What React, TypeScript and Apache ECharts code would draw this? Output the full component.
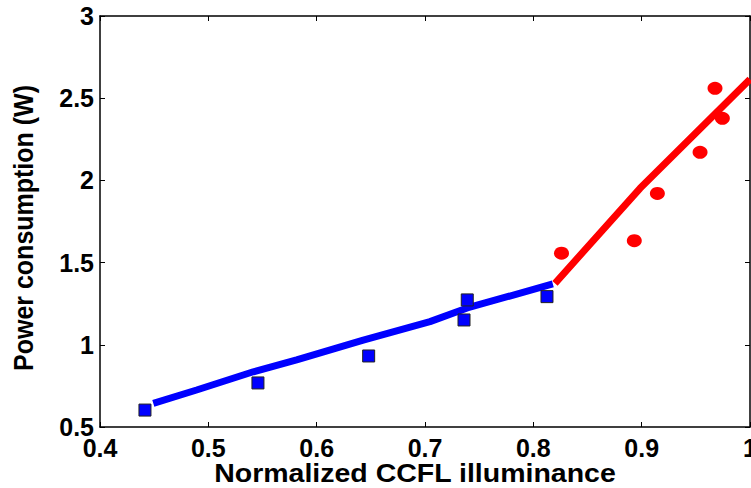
import React, { useEffect, useRef } from "react";
import * as echarts from "echarts";

const blueSquares: [number, number][] = [
  [0.4415, 0.603],
  [0.5458, 0.768],
  [0.648, 0.932],
  [0.739, 1.273],
  [0.736, 1.151],
  [0.8126, 1.293],
];
const redCircles: [number, number][] = [
  [0.826, 1.557],
  [0.8932, 1.633],
  [0.9145, 1.921],
  [0.9539, 2.171],
  [0.9677, 2.56],
  [0.9745, 2.378],
];
const blueFit: [number, number][] = [
  [0.4492, 0.644],
  [0.4892, 0.725],
  [0.5415, 0.836],
  [0.5815, 0.908],
  [0.643, 1.029],
  [0.7046, 1.141],
  [0.739, 1.224],
  [0.818, 1.37],
];
const redFit: [number, number][] = [
  [0.82, 1.374],
  [0.8985, 1.952],
  [1.0, 2.615],
];
const xTitle = "Normalized CCFL illuminance";
const yTitle = "Power consumption (W)";

const FONT = "'Liberation Sans', Arial, sans-serif";

export default function App() {
  const ref = useRef<HTMLDivElement>(null);
  useEffect(() => {
    if (!ref.current) return;
    const chart = echarts.init(ref.current, null, { renderer: "svg" });
    const axisLine = { show: true, lineStyle: { color: "#000", width: 1.5 } };
    const axisTick = { show: true, inside: true, length: 5, lineStyle: { color: "#000", width: 1 } };
    const labelStyle = { color: "#000", fontFamily: FONT, fontWeight: "bold" as const, fontSize: 25 };
    chart.setOption({
      animation: false,
      backgroundColor: "#fff",
      grid: { left: 100, right: 1, top: 16, bottom: 61, containLabel: false, outerBoundsMode: "none" },
      xAxis: [
        {
          type: "value", min: 0.4, max: 1, interval: 0.1,
          axisLine, axisTick, splitLine: { show: false },
          axisLabel: { ...labelStyle, margin: 8, hideOverlap: false, formatter: (v: number) => String(Number(v.toFixed(1))) },
        },
        {
          type: "value", position: "top", min: 0.4, max: 1, interval: 0.1,
          axisLine, axisTick, splitLine: { show: false }, axisLabel: { show: false },
        },
      ],
      yAxis: [
        {
          type: "value", min: 0.5, max: 3, interval: 0.5,
          axisLine, axisTick, splitLine: { show: false },
          axisLabel: { ...labelStyle, margin: 6, formatter: (v: number) => String(Number(v.toFixed(1))) },
        },
        {
          type: "value", position: "right", min: 0.5, max: 3, interval: 0.5,
          axisLine, axisTick, splitLine: { show: false }, axisLabel: { show: false },
        },
      ],
      graphic: [
        {
          type: "text", x: 415, y: 474, scaleX: 1.14,
          style: { text: xTitle, font: `bold 25px ${FONT}`, fill: "#000", textAlign: "center", textVerticalAlign: "middle" },
        },
        {
          type: "text", x: 23, y: 228, rotation: Math.PI / 2, scaleY: 1.14,
          style: { text: yTitle, font: `bold 25px ${FONT}`, fill: "#000", textAlign: "center", textVerticalAlign: "middle" },
        },
      ],
      series: [
        {
          type: "line", data: blueFit, symbol: "none", smooth: false,
          lineStyle: { color: "#0000ff", width: 7 }, z: 2,
        },
        {
          type: "line", data: redFit, symbol: "none", smooth: false,
          lineStyle: { color: "#ff0000", width: 7 }, z: 2,
        },
        {
          type: "scatter", data: blueSquares, symbol: "rect", symbolSize: 12,
          itemStyle: { color: "#0000ff", borderColor: "#222", borderWidth: 1, opacity: 1 }, z: 3,
        },
        {
          type: "scatter", data: redCircles, symbol: "circle", symbolSize: [15, 13],
          itemStyle: { color: "#ff0000", opacity: 1 }, z: 3,
        },
      ],
    });
    return () => chart.dispose();
  }, []);
  return <div ref={ref} style={{ position: "absolute", left: 0, top: 0, width: 751, height: 488 }} />;
}
